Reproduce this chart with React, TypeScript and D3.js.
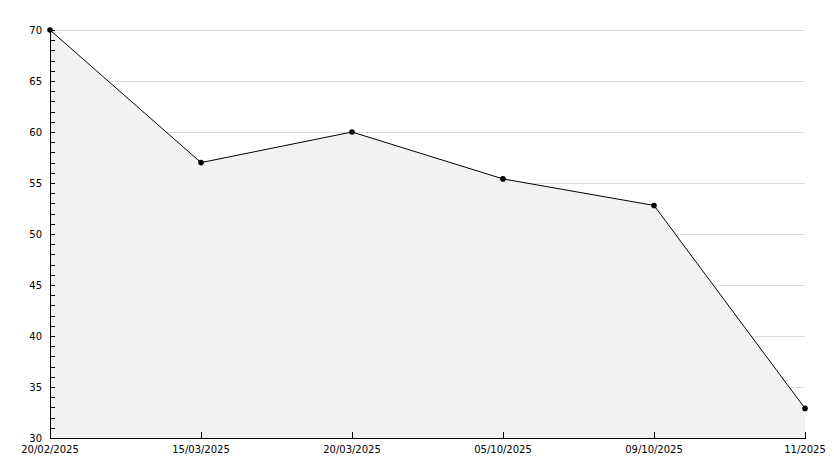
import React from "react";
import * as d3 from "d3";

const categories = ["20/02/2025", "15/03/2025", "20/03/2025", "05/10/2025", "09/10/2025", "11/2025"];
const values = [70, 57, 60, 55.4, 52.8, 32.9];
const yMajorTicks = [30, 35, 40, 45, 50, 55, 60, 65, 70];

const W = 834, H = 468;
const M = { left: 50, right: 29, top: 30, bottom: 30 };

export default function App() {
  const x = d3.scalePoint<string>().domain(categories).range([M.left, W - M.right]);
  const y = d3.scaleLinear().domain([30, 70]).range([H - M.bottom, M.top]);
  const data = categories.map((c, i) => ({ c, v: values[i] }));
  const line = d3.line<{ c: string; v: number }>().x(d => x(d.c)!).y(d => y(d.v));
  const area = d3.area<{ c: string; v: number }>().x(d => x(d.c)!).y0(y(30)).y1(d => y(d.v));
  const minor = d3.range(30, 71, 1);
  const x0 = M.left, x1 = W - M.right, yb = y(30);
  return (
    <svg width={W} height={H} style={{ position: "absolute", left: 0, top: 0, background: "#fff" }}
      fontFamily="DejaVu Sans" fontSize={10}>
      {yMajorTicks.map(t => (
        <line key={"g" + t} x1={x0} x2={x1} y1={Math.round(y(t)) + 0.5} y2={Math.round(y(t)) + 0.5} stroke="#dddddd" />
      ))}
      <path d={area(data)!} fill="#f2f2f2" />
      <path d={line(data)!} fill="none" stroke="#000" strokeWidth={1} />
      <line x1={x0 + 0.5} x2={x0 + 0.5} y1={M.top} y2={yb} stroke="#000" />
      <line x1={x0} x2={x1 + 1} y1={yb + 0.5} y2={yb + 0.5} stroke="#000" />
      {minor.map(t => (
        <line key={"m" + t} x1={x0} x2={x0 + 5} y1={Math.round(y(t)) + 0.5} y2={Math.round(y(t)) + 0.5} stroke="#000" />
      ))}
      {yMajorTicks.map(t => (
        <text key={"yl" + t} x={x0 - 8} y={y(t) + 4} textAnchor="end" fill="#000">{t}</text>
      ))}
      {categories.map(c => (
        <g key={"x" + c}>
          <line x1={Math.round(x(c)!) + 0.5} x2={Math.round(x(c)!) + 0.5} y1={yb - 6} y2={yb} stroke="#000" />
          <text x={x(c)!} y={yb + 15} textAnchor="middle" fill="#000">{c}</text>
        </g>
      ))}
      {data.map(d => (
        <circle key={"p" + d.c} cx={x(d.c)!} cy={y(d.v)} r={2.8} fill="#000" />
      ))}
    </svg>
  );
}
